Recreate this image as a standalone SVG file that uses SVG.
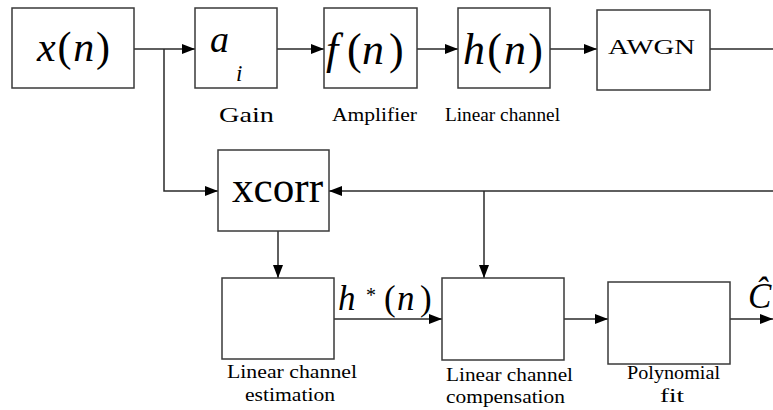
<svg xmlns="http://www.w3.org/2000/svg" width="773" height="410" viewBox="0 0 773 410">
  <style>
    .box { fill: #ffffff; stroke: #3a3a3a; stroke-width: 1.5; }
    .wire { fill: none; stroke: #2a2a2a; stroke-width: 1.5; }
    .arr { marker-end: url(#head); }
    .it { font-style: italic; }
    .cap { font-size: 18px; }
    text { font-family: "Liberation Serif", "Times New Roman", "DejaVu Serif", serif; fill: #000; }
  </style>
  <defs>
    <marker id="head" markerUnits="userSpaceOnUse" markerWidth="14" markerHeight="12" refX="13" refY="5" orient="auto">
      <path d="M0,0 L13,5 L0,10 Z" fill="#000"/>
    </marker>
  </defs>

  <!-- connectors -->
  <g id="connectors">
    <path class="wire arr" d="M134,49 H195"/>
    <path class="wire arr" d="M164,49 V191 H218"/>
    <path class="wire arr" d="M277,49 H324"/>
    <path class="wire arr" d="M417,49 H458"/>
    <path class="wire arr" d="M550,49 H597"/>
    <path class="wire" d="M710,49 H773"/>
    <path class="wire arr" d="M773,191 H329"/>
    <path class="wire arr" d="M484,191 V278"/>
    <path class="wire arr" d="M278,231 V278"/>
    <path class="wire arr" d="M334,319 H442"/>
    <path class="wire arr" d="M564,319 H608"/>
    <path class="wire arr" d="M730,319 H773"/>
  </g>

  <!-- input signal -->
  <g id="input">
    <rect class="box" x="12" y="8" width="122" height="80"/>
    <text x="37" y="61" font-size="42" textLength="73" lengthAdjust="spacing"><tspan class="it">x</tspan>(<tspan class="it">n</tspan>)</text>
  </g>

  <!-- gain -->
  <g id="gain">
    <rect class="box" x="195" y="8" width="82" height="80"/>
    <text x="210" y="52" font-size="38" class="it">a</text>
    <text x="236" y="81" font-size="23" class="it">i</text>
    <text x="219" y="122" font-size="22" textLength="55" lengthAdjust="spacingAndGlyphs">Gain</text>
  </g>

  <!-- amplifier -->
  <g id="amplifier">
    <rect class="box" x="324" y="8" width="93" height="80"/>
    <text y="64" font-size="44"><tspan class="it" x="326">f</tspan><tspan x="347">(</tspan><tspan class="it" x="362">n</tspan><tspan x="389">)</tspan></text>
    <text x="332" y="121" class="cap" textLength="85" lengthAdjust="spacingAndGlyphs">Amplifier</text>
  </g>

  <!-- linear channel -->
  <g id="channel">
    <rect class="box" x="458" y="8" width="92" height="80"/>
    <text x="463" y="64" font-size="44" textLength="80" lengthAdjust="spacing"><tspan class="it">h</tspan>(<tspan class="it">n</tspan>)</text>
    <text x="445" y="121" class="cap" textLength="115" lengthAdjust="spacingAndGlyphs">Linear channel</text>
  </g>

  <!-- noise -->
  <g id="awgn">
    <rect class="box" x="597" y="10" width="113" height="80"/>
    <text x="608" y="54" font-size="21" textLength="87" lengthAdjust="spacingAndGlyphs">AWGN</text>
  </g>

  <!-- cross-correlation -->
  <g id="xcorr">
    <rect class="box" x="218" y="150" width="111" height="81"/>
    <text x="232" y="202" font-size="44" textLength="91" lengthAdjust="spacingAndGlyphs">xcorr</text>
  </g>

  <!-- channel estimation -->
  <g id="estimation">
    <rect class="box" x="222" y="278" width="112" height="81"/>
    <text x="227" y="378" class="cap" textLength="130" lengthAdjust="spacingAndGlyphs">Linear channel</text>
    <text x="245" y="401" class="cap" textLength="90" lengthAdjust="spacingAndGlyphs">estimation</text>
    <text x="338" y="310" font-size="35" class="it">h</text>
    <text x="366" y="302" font-size="20">*</text>
    <text y="310" font-size="35"><tspan x="384">(</tspan><tspan class="it" x="397">n</tspan><tspan x="420">)</tspan></text>
  </g>

  <!-- channel compensation -->
  <g id="compensation">
    <rect class="box" x="442" y="278" width="122" height="82"/>
    <text x="446" y="381" class="cap" textLength="127" lengthAdjust="spacingAndGlyphs">Linear channel</text>
    <text x="446" y="403" class="cap" textLength="119" lengthAdjust="spacingAndGlyphs">compensation</text>
  </g>

  <!-- polynomial fit -->
  <g id="polyfit">
    <rect class="box" x="608" y="282" width="122" height="82"/>
    <text x="627" y="379" class="cap" textLength="93" lengthAdjust="spacingAndGlyphs">Polynomial</text>
    <text x="660" y="402" class="cap" textLength="24" lengthAdjust="spacingAndGlyphs">fit</text>
    <text x="748" y="308" font-size="35" class="it">Ĉ</text>
  </g>
</svg>
